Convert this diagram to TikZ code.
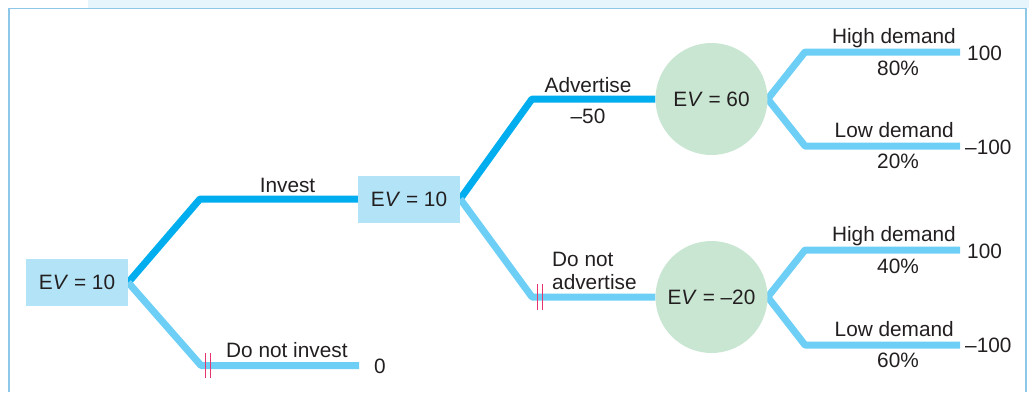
\documentclass[tikz,border=0pt]{standalone}
\usepackage{fontspec}
\setmainfont{Liberation Sans}
\usetikzlibrary{backgrounds,calc}
\definecolor{darkline}{HTML}{00AEEF}
\definecolor{lightline}{HTML}{6DCFF6}
\definecolor{boxfill}{HTML}{B3E3F7}
\definecolor{circfill}{HTML}{C9E6D3}
\definecolor{barred}{HTML}{E8336D}
\definecolor{framecol}{HTML}{8DC8E8}
\definecolor{bandcol}{HTML}{E6F5FC}
\definecolor{txt}{HTML}{231F20}
\begin{document}
\begin{tikzpicture}[x=1pt,y=-1pt,
  every node/.style={text=txt,font=\fontsize{20.8}{23}\selectfont},
  evbox/.style={draw=none,fill=boxfill,minimum width=102pt,minimum height=47pt,inner sep=0pt},
  evcirc/.style={circle,draw=none,fill=circfill,minimum size=112pt,inner sep=0pt},
  lbl/.style={inner sep=0pt},
  chosen/.style={draw=darkline,line width=7pt,line join=round},
  other/.style={draw=lightline,line width=7pt,line join=round},
  cutbar/.style={draw=barred,line width=1pt}
]
\useasboundingbox (0,0) rectangle (1029,392);
% nodes
\node[evbox] (root) at (77,282.5) {E\textit{V} = 10};
\node[evbox] (inv) at (409,199) {E\textit{V} = 10};
\node[evcirc] (adv) at (711.5,99) {E\textit{V} = 60};
\node[evcirc] (noadv) at (711.5,297) {E\textit{V} = –20};
% corner coordinates
\coordinate (c1) at (200,199);
\coordinate (c2) at (201,365.5);
\coordinate (e2) at (359,365.5);
\coordinate (c3) at (532,99);
\coordinate (c4) at (532,297);
\coordinate (a1) at (805,52);
\coordinate (a1e) at (960,52);
\coordinate (a2) at (805,146);
\coordinate (a2e) at (960,146);
\coordinate (b1) at (805,250);
\coordinate (b1e) at (960,250);
\coordinate (b2) at (805,345);
\coordinate (b2e) at (960,345);
\begin{scope}[on background layer]
  \fill[bandcol] (88,0) rectangle (1029,8);
  \draw[framecol,line width=1.5pt] (9,392) -- (9,8.5) -- (1026,8.5) -- (1026,392);
  \draw[chosen] (root.east) -- (c1) -- (inv.west);
  \draw[other] (root.east) -- (c2) -- (e2);
  \draw[chosen] (inv.east) -- (c3) -- (adv.west);
  \draw[other] (inv.east) -- (c4) -- (noadv.west);
  \draw[other] (adv.east) -- (a1) -- (a1e);
  \draw[other] (adv.east) -- (a2) -- (a2e);
  \draw[other] (noadv.east) -- (b1) -- (b1e);
  \draw[other] (noadv.east) -- (b2) -- (b2e);
\end{scope}
% cut bars
\draw[cutbar] ($(c2)+(4.5,-12.5)$) -- ($(c2)+(4.5,12.5)$);
\draw[cutbar] ($(c2)+(9.5,-12.5)$) -- ($(c2)+(9.5,12.5)$);
\draw[cutbar] ($(c4)+(5,-13)$) -- ($(c4)+(5,13)$);
\draw[cutbar] ($(c4)+(10,-13)$) -- ($(c4)+(10,13)$);
% labels
\node[lbl,anchor=base] (linvest) at (287.5,192) {Invest};
\node[lbl,anchor=base west] (lnoinv) at (226,357) {Do not invest};
\node[lbl,anchor=base west] (vzero) at (374,373) {0};
\node[lbl,anchor=base] (ladv) at (588,92) {Advertise};
\node[lbl,anchor=base] (cadv) at (588,123) {–50};
\node[lbl,anchor=base west] (lnoadv1) at (552,266) {Do not};
\node[lbl,anchor=base west] (lnoadv2) at (552,289) {advertise};
\node[lbl,anchor=base east] (lh1) at (956,43) {High demand};
\node[lbl,anchor=base] (ph1) at (898,75) {80\%};
\node[lbl,anchor=base west] (vh1) at (967,60) {100};
\node[lbl,anchor=base east] (ll1) at (954,137) {Low demand};
\node[lbl,anchor=base] (pl1) at (898,168) {20\%};
\node[lbl,anchor=base west] (vl1) at (965,154) {–100};
\node[lbl,anchor=base east] (lh2) at (956,241) {High demand};
\node[lbl,anchor=base] (ph2) at (898,273) {40\%};
\node[lbl,anchor=base west] (vh2) at (967,258) {100};
\node[lbl,anchor=base east] (ll2) at (954,336) {Low demand};
\node[lbl,anchor=base] (pl2) at (898,367) {60\%};
\node[lbl,anchor=base west] (vl2) at (965,352) {–100};
\end{tikzpicture}
\end{document}
